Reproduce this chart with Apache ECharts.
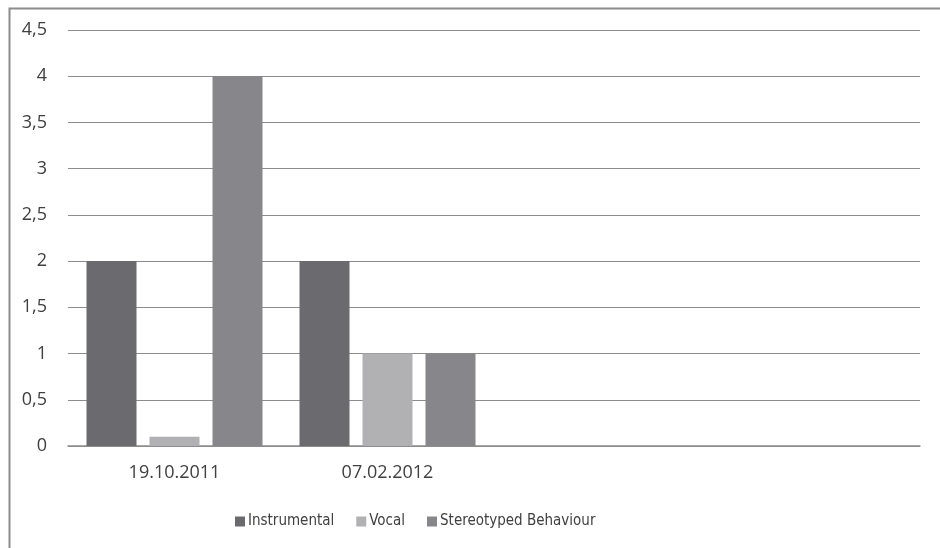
<!DOCTYPE html>
<html>
<head>
<meta charset="utf-8">
<script src="https://cdn.jsdelivr.net/npm/echarts@6/dist/echarts.min.js"></script>
<style>html,body{margin:0;padding:0;background:#fff;}#c{width:940px;height:548px;}</style>
</head>
<body>
<div id="c"></div>
<script>
var categories = ['19.10.2011', '07.02.2012', '', ''];
var instrumental = [2, 2, null, null];
var vocal = [0.1, 1, null, null];
var stereotyped = [4, 1, null, null];
var seriesNames = ['Instrumental', 'Vocal', 'Stereotyped Behaviour'];
var yTicks = {min: 0, max: 4.5, interval: 0.5};

var axisFont = '"Open Sans", sans-serif';
var legendFont = '"DejaVu Sans Condensed", sans-serif';
var chart = echarts.init(document.getElementById('c'));
function bar(name, data, color) {
  return {
    name: name, type: 'bar', data: data,
    barWidth: 50, barGap: '26%', barCategoryGap: '17%',
    itemStyle: {color: color}, animation: false
  };
}
chart.setOption({
  animation: false,
  graphic: [{
    type: 'rect', left: 7, top: 6,
    shape: {width: 1000, height: 1000},
    style: {fill: 'none', stroke: '#8c8c8c', lineWidth: 2}, silent: true
  }],
  grid: {left: 68, right: 20, top: 30, bottom: 102},
  legend: {
    top: 509, left: 230, itemWidth: 10, itemHeight: 10, itemGap: 22,
    icon: 'rect',
    textStyle: {fontFamily: legendFont, fontSize: 15, color: '#404040', padding: [0, 0, 0, -2]},
    data: seriesNames
  },
  xAxis: {
    type: 'category', data: categories,
    axisLine: {lineStyle: {color: '#8c8c8c', width: 1.5}},
    axisTick: {show: false},
    axisLabel: {fontFamily: axisFont, fontSize: 18, color: '#404040', margin: 18}
  },
  yAxis: {
    type: 'value', min: yTicks.min, max: yTicks.max, interval: yTicks.interval,
    axisLine: {show: false}, axisTick: {show: false},
    splitLine: {lineStyle: {color: '#8c8c8c', width: 1}},
    axisLabel: {
      fontFamily: axisFont, fontSize: 18, color: '#404040', margin: 21,
      formatter: function (v) { return String(v).replace('.', ','); }
    }
  },
  series: [
    bar(seriesNames[0], instrumental, '#6a6a6f'),
    bar(seriesNames[1], vocal, '#b1b1b4'),
    bar(seriesNames[2], stereotyped, '#86868b')
  ]
});
</script>
</body>
</html>
